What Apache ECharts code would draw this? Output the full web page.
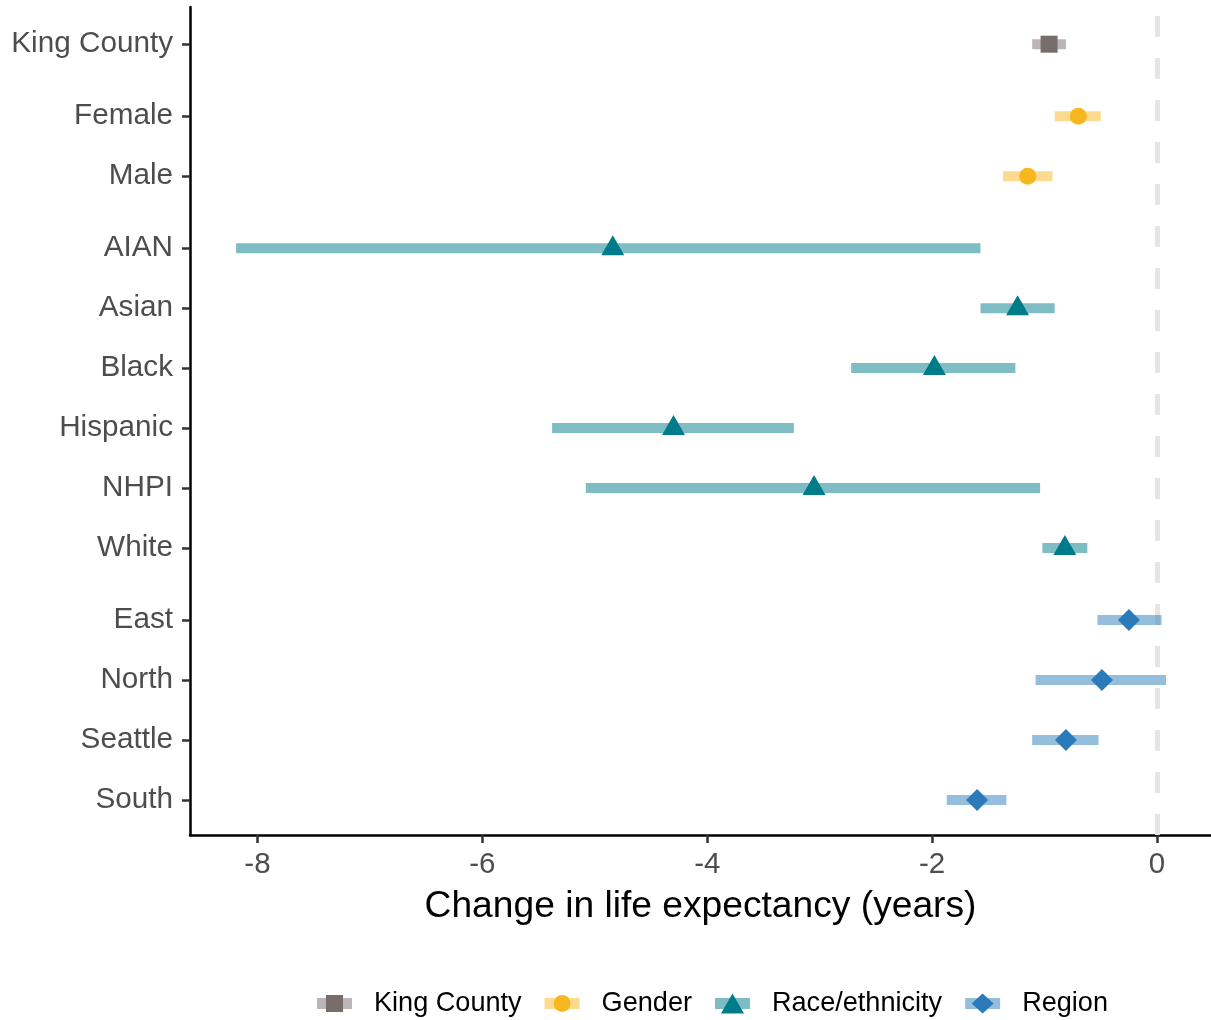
<!DOCTYPE html>
<html>
<head>
<meta charset="utf-8">
<script src="https://cdn.jsdelivr.net/npm/echarts@6/dist/echarts.min.js"></script>
<style>
html,body{margin:0;padding:0;background:#fff;}
#chart{width:1211px;height:1020px;}
</style>
</head>
<body>
<div id="chart"></div>
<script>
// ---- data ----
const categories = ['King County','Female','Male','AIAN','Asian','Black','Hispanic','NHPI','White','East','North','Seattle','South'];
const groupOf    = ['King County','Gender','Gender','Race/ethnicity','Race/ethnicity','Race/ethnicity','Race/ethnicity','Race/ethnicity','Race/ethnicity','Region','Region','Region','Region'];
const estimate   = [-0.96,-0.70,-1.15,-4.84,-1.24,-1.98,-4.30,-3.05,-0.82,-0.25,-0.49,-0.81,-1.60];
const lower      = [-1.11,-0.91,-1.37,-8.19,-1.57,-2.72,-5.38,-5.08,-1.02,-0.53,-1.08,-1.11,-1.87];
const upper      = [-0.81,-0.50,-0.93,-1.57,-0.91,-1.26,-3.23,-1.04,-0.62,0.04,0.08,-0.52,-1.34];
const groups     = ['King County','Gender','Race/ethnicity','Region'];
const xTickValues = [-8,-6,-4,-2,0];

// ---- styles ----
const pointColors = {'King County':'#776e6c','Gender':'#f9b71f','Race/ethnicity':'#007b8a','Region':'#2b7bba'};
const barColors   = {'King County':'rgba(119,110,108,0.5)','Gender':'rgba(249,183,31,0.5)','Race/ethnicity':'rgba(0,123,138,0.5)','Region':'rgba(43,123,186,0.5)'};
const symbols     = {'King County':'rect','Gender':'circle','Race/ethnicity':'triangle','Region':'diamond'};
const symSizes    = {'King County':[17,17],'Gender':[17,17],'Race/ethnicity':[23,20],'Region':[22,22]};
const symOffsets  = {'King County':[0,0],'Gender':[0,0],'Race/ethnicity':[0,-3],'Region':[0,0]};
// legend icons drawn in a 35x20 frame (degenerate corner points keep the frame width)
const FRAME = 'M0,0L0.01,0Z M35,20L34.99,20Z ';
const legendIcons = {
  'King County':'path://' + FRAME + 'M9,1.5L26,1.5L26,18.5L9,18.5Z',
  'Gender':'path://' + FRAME + 'M17.5,1.5A8.5,8.5 0 1 1 17.49,1.5Z',
  'Race/ethnicity':'path://' + FRAME + 'M17.5,0L29,20L6,20Z',
  'Region':'path://' + FRAME + 'M17.5,-1L28.5,10L17.5,21L6.5,10Z'
};
const FONT = "'Liberation Sans', Arial, sans-serif";

// vertical layout: rows stacked from the bottom, extra gap between groups
const GROUP_GAP = 0.2;
const ypos = new Array(categories.length);
{
  let p = 0;
  for (let i = categories.length - 1; i >= 0; i--) {
    if (i < categories.length - 1 && groupOf[i] !== groupOf[i + 1]) p += GROUP_GAP;
    ypos[i] = p;
    p += 1;
  }
}
const labelByPos = {};
categories.forEach((c, i) => { labelByPos[ypos[i].toFixed(2)] = c; });

const series = [];
groups.forEach((g, gi) => {
  const idx = categories.map((c, i) => i).filter(i => groupOf[i] === g);
  series.push({
    name: g,
    type: 'custom',
    z: 2,
    data: idx.map(i => [lower[i], upper[i], ypos[i]]),
    renderItem: function (params, api) {
      const a = api.coord([api.value(0), api.value(2)]);
      const b = api.coord([api.value(1), api.value(2)]);
      return {
        type: 'rect',
        shape: { x: a[0], y: a[1] - 5, width: b[0] - a[0], height: 10 },
        style: { fill: barColors[g] }
      };
    },
    markLine: gi === 0 ? {
      silent: true,
      z: 1,
      symbol: 'none',
      label: { show: false },
      lineStyle: { color: '#e5e5e5', type: [21, 21], width: 5 },
      data: [{ xAxis: 0 }]
    } : undefined
  });
});
groups.forEach((g) => {
  const idx = categories.map((c, i) => i).filter(i => groupOf[i] === g);
  series.push({
    name: g,
    type: 'scatter',
    z: 4,
    symbol: symbols[g],
    symbolSize: symSizes[g],
    symbolOffset: symOffsets[g],
    itemStyle: { color: pointColors[g], opacity: 1 },
    data: idx.map(i => [estimate[i], ypos[i]])
  });
});

const chart = echarts.init(document.getElementById('chart'), null, { renderer: 'canvas' });
chart.setOption({
  animation: false,
  backgroundColor: '#ffffff',
  textStyle: { fontFamily: FONT },
  grid: { left: 190, right: 0, top: 7, bottom: 185, containLabel: false },
  xAxis: {
    type: 'value',
    min: -8.6,
    max: 0.48,
    name: 'Change in life expectancy (years)',
    nameLocation: 'middle',
    nameGap: 53,
    nameTextStyle: { color: '#000', fontSize: 37.2, fontFamily: FONT },
    axisLine: { show: true, onZero: false, lineStyle: { color: '#000', width: 2.5 } },
    axisTick: { show: true, length: 8, lineStyle: { color: '#333', width: 2.5 }, customValues: xTickValues },
    axisLabel: { color: '#4d4d4d', fontSize: 29.5, margin: 15, fontFamily: FONT, customValues: xTickValues,
                 formatter: v => String(v) },
    splitLine: { show: false }
  },
  yAxis: {
    type: 'value',
    min: -0.583,
    max: 13.22,
    axisLine: { show: true, onZero: false, lineStyle: { color: '#000', width: 2.5 } },
    axisTick: { show: true, length: 8, lineStyle: { color: '#333', width: 2.5 }, customValues: ypos },
    axisLabel: { color: '#4d4d4d', fontSize: 29.7, margin: 17, fontFamily: FONT, customValues: ypos,
                 padding: [6, 0, 0, 0],
                 formatter: v => labelByPos[Number(v).toFixed(2)] || '' },
    splitLine: { show: false }
  },
  legend: [
    {
      selectedMode: false,
      orient: 'horizontal',
      left: 312,
      top: 985,
      itemWidth: 35,
      itemHeight: 11,
      itemGap: 23,
      textStyle: { color: '#000', fontSize: 27.1, fontFamily: FONT, padding: [0, 0, 0, 17] },
      data: groups.map(g => ({ name: g, icon: 'rect', itemStyle: { color: barColors[g], opacity: 1 } }))
    },
    {
      selectedMode: false,
      orient: 'horizontal',
      left: 312,
      top: 985,
      itemWidth: 35,
      itemHeight: 20,
      itemGap: 23,
      symbolKeepAspect: false,
      textStyle: { color: 'transparent', fontSize: 27.1, fontFamily: FONT, padding: [0, 0, 0, 17] },
      data: groups.map(g => ({ name: g, icon: legendIcons[g], itemStyle: { color: pointColors[g], opacity: 1, borderWidth: 0 } }))
    }
  ],
  series: series
});
</script>
</body>
</html>
